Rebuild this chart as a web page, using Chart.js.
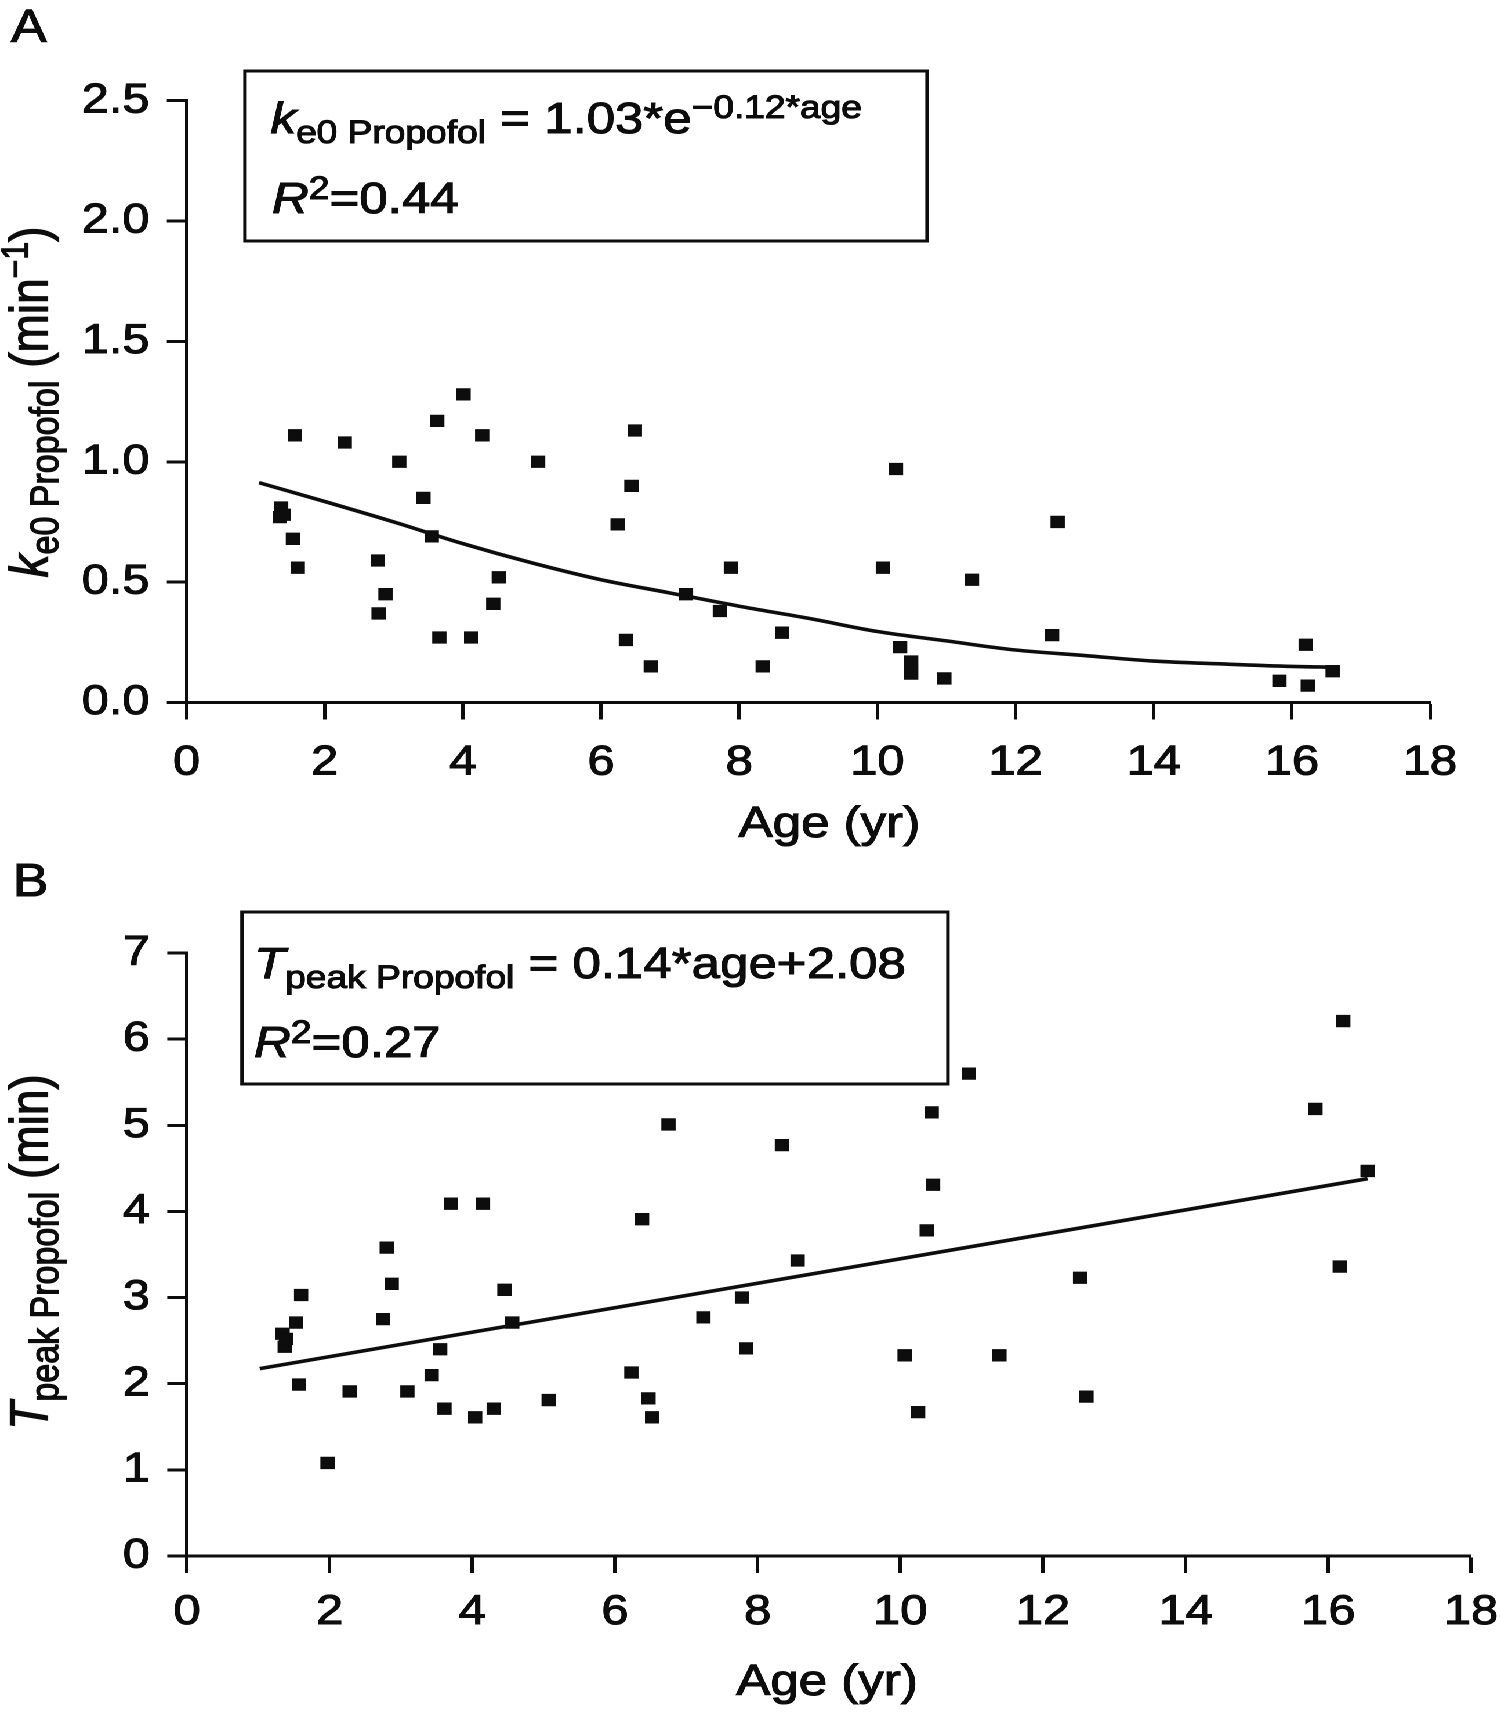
<!DOCTYPE html>
<html>
<head>
<meta charset="utf-8">
<script src="https://cdn.jsdelivr.net/npm/chart.js@4.4.1/dist/chart.umd.min.js"></script>
<style>
  html, body { margin: 0; padding: 0; background: #ffffff; }
  #stage { position: absolute; left: 0; top: 0; width: 1293px; height: 1718px;
           transform: scaleX(1.16); transform-origin: 0 0; }
  #stage canvas { position: absolute; left: 0; }
</style>
</head>
<body>
<div id="stage">
  <canvas id="chartA" width="1293" height="860" style="top:0px"></canvas>
  <canvas id="chartB" width="1293" height="858" style="top:860px"></canvas>
</div>
<script>
// ---------------- data ----------------
const xTicks  = [0, 2, 4, 6, 8, 10, 12, 14, 16, 18];
const yTicksA = [0, 0.5, 1.0, 1.5, 2.0, 2.5];
const yTicksB = [0, 1, 2, 3, 4, 5, 6, 7];

// Panel A: ke0 propofol (min^-1) vs age (yr)
const ageA = [1.35, 1.37, 1.41, 1.54, 1.57, 1.61, 2.29, 2.77, 2.78, 2.88, 3.08, 3.43, 3.55, 3.63, 3.66,
              4.01, 4.12, 4.28, 4.44, 4.52, 5.09, 6.24, 6.36, 6.44, 6.49, 6.72, 7.23, 7.72, 7.88, 8.34,
              8.62, 10.08, 10.27, 10.33, 10.49, 10.49, 10.97, 11.37, 12.53, 12.61, 15.82, 16.20, 16.23, 16.59];
const ke0  = [0.77, 0.81, 0.78, 0.68, 1.11, 0.56, 1.08, 0.59, 0.37, 0.45, 1.00, 0.85, 0.69, 1.17, 0.27,
              1.28, 0.27, 1.11, 0.41, 0.52, 1.00, 0.74, 0.26, 0.90, 1.13, 0.15, 0.45, 0.38, 0.56, 0.15,
              0.29, 0.56, 0.97, 0.23, 0.17, 0.12, 0.10, 0.51, 0.28, 0.75, 0.09, 0.24, 0.07, 0.13];
// fitted curve
const fitAgeA = [1.05, 2, 3, 4, 5, 6, 7, 8, 9, 10, 11, 12, 13, 14, 15, 16, 16.6];
const fitKe0  = [0.913, 0.835, 0.75, 0.66, 0.58, 0.51, 0.455, 0.40, 0.35, 0.295, 0.256, 0.218, 0.195, 0.172, 0.16, 0.15, 0.147];

// Panel B: Tpeak propofol (min) vs age (yr)
const ageB  = [1.34, 1.37, 1.39, 1.53, 1.57, 1.60, 1.97, 2.28, 2.75, 2.80, 2.87, 3.09, 3.43, 3.55, 3.61,
               3.70, 4.04, 4.15, 4.30, 4.45, 4.56, 5.07, 6.23, 6.38, 6.47, 6.52, 6.75, 7.24, 7.78, 7.84,
               8.34, 8.56, 10.06, 10.25, 10.37, 10.44, 10.46, 10.96, 11.39, 12.52, 12.61, 15.82, 16.16, 16.21, 16.55];
const tpeak = [2.58, 2.43, 2.52, 2.71, 1.99, 3.03, 1.08, 1.91, 2.75, 3.58, 3.16, 1.91, 2.10, 2.40, 1.71,
               4.09, 1.61, 4.09, 1.71, 3.09, 2.71, 1.81, 2.13, 3.91, 1.83, 1.61, 5.01, 2.77, 3.00, 2.41,
               4.77, 3.43, 2.33, 1.67, 3.78, 5.15, 4.31, 5.60, 2.33, 3.23, 1.85, 5.19, 3.36, 6.21, 4.47];
const fitAgeB  = [1.02, 16.55];
const fitTpeak = [2.175, 4.38];

const xTitle = 'Age (yr)';

// ---------------- styling ----------------
const FONT = "'Liberation Sans', Arial, Helvetica, sans-serif";
const INK = '#0d0d0d';
const STROKE = 1.1;

function runs(ctx, x, y, list) {
  let cx = x;
  for (const r of list) {
    ctx.font = (r.italic ? 'italic ' : '') + r.size + 'px ' + FONT;
    ctx.fillText(r.text, cx, y + (r.dy || 0));
    ctx.strokeText(r.text, cx, y + (r.dy || 0));
    cx += ctx.measureText(r.text).width;
  }
  return cx - x;
}
function runsWidth(ctx, list) {
  let w = 0;
  for (const r of list) {
    ctx.font = (r.italic ? 'italic ' : '') + r.size + 'px ' + FONT;
    w += ctx.measureText(r.text).width;
  }
  return w;
}

const decorPlugin = {
  id: 'decor',
  afterDraw(chart, args, o) {
    const ctx = chart.ctx;
    ctx.save();
    ctx.fillStyle = INK;
    ctx.strokeStyle = INK;
    ctx.textBaseline = 'alphabetic';
    ctx.textAlign = 'left';
    // equation box
    ctx.lineWidth = 3;
    ctx.strokeRect(o.box.x, o.box.y, o.box.w, o.box.h);
    ctx.lineWidth = STROKE;
    // panel letter
    ctx.font = '46px ' + FONT;
    ctx.fillText(o.letter.text, o.letter.x, o.letter.y);
    ctx.strokeText(o.letter.text, o.letter.x, o.letter.y);
    o.lines.forEach(l => runs(ctx, l.x, l.y, l.runs));
    // x title
    ctx.font = '44px ' + FONT;
    ctx.textAlign = 'center';
    ctx.textBaseline = 'middle';
    ctx.fillText(xTitle, o.xTitle.x, o.xTitle.y);
    ctx.strokeText(xTitle, o.xTitle.x, o.xTitle.y);
    // rotated y title
    ctx.textAlign = 'left';
    ctx.textBaseline = 'alphabetic';
    const w = runsWidth(ctx, o.yTitle.runs);
    ctx.translate(o.yTitle.x, o.yTitle.y);
    ctx.rotate(-Math.PI / 2);
    runs(ctx, -w / 2, 0, o.yTitle.runs);
    ctx.restore();
  }
};

function noPad(s) { s.paddingLeft = 0; s.paddingRight = 0; s.paddingTop = 0; s.paddingBottom = 0; }

function makeConfig(p) {
  const W = 1293;
  return {
    type: 'scatter',
    data: {
      datasets: [
        {
          data: p.fitX.map((x, i) => ({ x, y: p.fitY[i] })),
          showLine: true, borderColor: INK, borderWidth: 3.6, pointRadius: 0,
          tension: 0.4, cubicInterpolationMode: 'monotone', fill: false
        },
        {
          data: p.xs.map((x, i) => ({ x, y: p.ys[i] })),
          pointStyle: 'rect', pointRadius: 8, backgroundColor: INK,
          borderColor: INK, borderWidth: 1, showLine: false
        }
      ]
    },
    options: {
      responsive: false,
      animation: false,
      devicePixelRatio: 2,
      layout: { padding: { left: 0, right: W - p.right, top: p.top, bottom: 0 } },
      plugins: { legend: { display: false }, tooltip: { enabled: false }, decor: p.decor },
      scales: {
        x: {
          type: 'linear', min: 0, max: 18,
          afterBuildTicks: s => { s.ticks = xTicks.map(v => ({ value: v })); },
          afterFit: s => { s.height = p.H - p.bottom; noPad(s); },
          grid: { drawOnChartArea: false, drawTicks: true, tickLength: 17,
                  tickColor: INK, tickWidth: 3, color: INK },
          border: { display: true, color: INK, width: 3 },
          ticks: { color: INK, font: { family: FONT, size: 42 }, padding: p.xPad,
                   textStrokeColor: INK, textStrokeWidth: STROKE,
                   maxRotation: 0, minRotation: 0, autoSkip: false }
        },
        y: {
          type: 'linear', min: p.ymin, max: p.ymax,
          afterBuildTicks: s => { s.ticks = p.yTicks.map(v => ({ value: v })); },
          afterFit: s => { s.width = p.left; noPad(s); },
          grid: { drawOnChartArea: false, drawTicks: true, tickLength: 17,
                  tickColor: INK, tickWidth: 3, color: INK },
          border: { display: true, color: INK, width: 3 },
          ticks: { color: INK, font: { family: FONT, size: 42 }, padding: 15,
                   textStrokeColor: INK, textStrokeWidth: STROKE,
                   autoSkip: false, callback: p.fmt }
        }
      }
    },
    plugins: [decorPlugin]
  };
}

const MAIN = 44, SMALL = 32;

new Chart(document.getElementById('chartA'), makeConfig({
  H: 860, left: 160.8, right: 1232.8, top: 100.7, bottom: 702.5, xPad: 18,
  ymin: 0, ymax: 2.5, yTicks: yTicksA, fmt: v => Number(v).toFixed(1),
  xs: ageA, ys: ke0, fitX: fitAgeA, fitY: fitKe0,
  decor: {
    letter: { text: 'A', x: 9.5, y: 42 },
    box: { x: 211.2, y: 71, w: 588, h: 170 },
    lines: [
      { x: 233.2, y: 133, runs: [
        { text: 'k', size: MAIN, italic: true },
        { text: 'e0 Propofol', size: SMALL, dy: 10 },
        { text: ' = 1.03*e', size: MAIN },
        { text: '\u22120.12*age', size: SMALL, dy: -15 } ] },
      { x: 234.5, y: 213, runs: [
        { text: 'R', size: MAIN, italic: true },
        { text: '2', size: SMALL, dy: -14 },
        { text: '=0.44', size: MAIN } ] }
    ],
    xTitle: { x: 715, y: 825 },
    yTitle: { x: 41, y: 402, runs: [
      { text: 'k', size: 46, italic: true },
      { text: 'e0 Propofol', size: 34, dy: 9 },
      { text: ' (min', size: 46 },
      { text: '\u22121', size: 32, dy: -17 },
      { text: ')', size: 46 } ] }
  }
}));

new Chart(document.getElementById('chartB'), makeConfig({
  H: 858, left: 161.2, right: 1268.1, top: 93, bottom: 696, xPad: 14,
  ymin: 0, ymax: 7, yTicks: yTicksB, fmt: v => String(v),
  xs: ageB, ys: tpeak, fitX: fitAgeB, fitY: fitTpeak,
  decor: {
    letter: { text: 'B', x: 11, y: 36 },
    box: { x: 208.6, y: 52, w: 608.6, h: 172 },
    lines: [
      { x: 219, y: 118, runs: [
        { text: 'T', size: MAIN, italic: true },
        { text: 'peak Propofol', size: SMALL, dy: 10 },
        { text: ' = 0.14*age+2.08', size: MAIN } ] },
      { x: 219, y: 197, runs: [
        { text: 'R', size: MAIN, italic: true },
        { text: '2', size: SMALL, dy: -14 },
        { text: '=0.27', size: MAIN } ] }
    ],
    xTitle: { x: 713, y: 823 },
    yTitle: { x: 41, y: 392, runs: [
      { text: 'T', size: 46, italic: true },
      { text: 'peak Propofol', size: 34, dy: 9 },
      { text: ' (min)', size: 46 } ] }
  }
}));
</script>
</body>
</html>
